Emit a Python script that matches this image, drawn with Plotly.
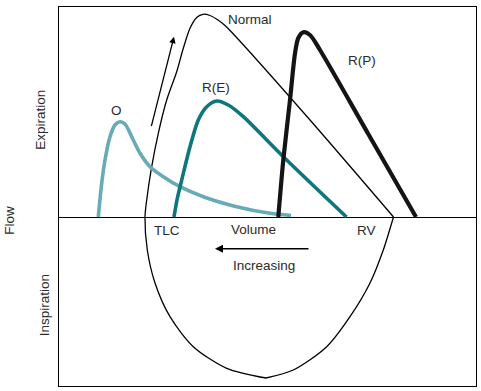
import plotly.graph_objects as go

# Flow-volume loops (volume in arbitrary units, increasing to the left; flow in arbitrary units)
# Normal loop: left limb (from inspiratory bottom up through TLC to the expiratory peak, then down to RV)
normal_exp_vol = [207, 167.7, 134.3, 111, 96, 88.3, 86, 87.7, 92.7, 99.3, 107.7, 117.7, 124.3, 131,
                  137.7, 144, 151, 159, 166, 172, 251, 334.5]
normal_exp_flow = [-161, -151.3, -129.7, -99.7, -66, -33, 0, 17, 50.3, 83.7, 117, 145.3, 168.7, 188.7,
                   199.5, 202.7, 201.5, 197, 191.5, 185.5, 97, 0]
# Normal loop: inspiratory right limb (RV down to the bottom)
normal_insp_vol = [334.5, 333, 324.3, 311, 291, 267.7, 234.3, 207]
normal_insp_flow = [0, -5, -33, -66, -99.7, -129.7, -153, -161]

# Obstructive (O)
o_vol = [39.3, 42.7, 46, 51, 56, 61, 66, 72.7, 81, 91, 104.3, 121, 144.3, 177.7, 211, 232]
o_flow = [0, 33.7, 57, 80.3, 92, 95.3, 93, 80.3, 63.7, 50.3, 40.3, 30.3, 20.3, 10.3, 3.7, 1.5]

# Restrictive, extraparenchymal (R(E))
re_vol = [115, 118, 122.7, 131, 139.3, 147.7, 157.7, 169.3, 184.3, 224.3, 287.5]
re_flow = [0, 17, 37, 70.3, 97, 110.3, 116, 112, 100.3, 60.3, 0]

# Restrictive, parenchymal (R(P))
rp_vol = [219.3, 224.3, 231, 236, 239.3, 244.3, 251, 261, 309, 357]
rp_flow = [0, 57, 117, 163.7, 179, 184.8, 182, 167, 83.5, 0]

# Text labels
curve_labels = ["Normal", "R(P)", "R(E)", "O", "TLC", "Volume", "RV", "Increasing"]
label_vol = [191, 303, 156.5, 57.7, 107.7, 194.5, 307.3, 204.7]
label_flow = [197.7, 156.2, 129.5, 107, -13, -12, -13.5, -48.7]

# Side labels (left of the frame)
side_labels = ["Flow", "Expiration", "Inspiration"]
side_x = [-0.1175, -0.0436, -0.0343]
side_y = [0.436, 0.702, 0.212]

FONT = "Liberation Sans, Arial, Helvetica, sans-serif"
TXT = "#2b2b2b"

fig = go.Figure()
fig.add_trace(go.Scatter(x=normal_exp_vol, y=normal_exp_flow, mode="lines",
                         line=dict(color="black", width=1.3, shape="spline", smoothing=0.8),
                         hoverinfo="skip"))
fig.add_trace(go.Scatter(x=normal_insp_vol, y=normal_insp_flow, mode="lines",
                         line=dict(color="black", width=1.3, shape="spline", smoothing=0.8),
                         hoverinfo="skip"))
fig.add_trace(go.Scatter(x=o_vol, y=o_flow, mode="lines",
                         line=dict(color="#66abb5", width=3.6, shape="spline", smoothing=0.8),
                         hoverinfo="skip"))
fig.add_trace(go.Scatter(x=re_vol, y=re_flow, mode="lines",
                         line=dict(color="#0e767e", width=3.6, shape="spline", smoothing=0.8),
                         hoverinfo="skip"))
fig.add_trace(go.Scatter(x=rp_vol, y=rp_flow, mode="lines",
                         line=dict(color="#141414", width=4.2, shape="spline", smoothing=0.8),
                         hoverinfo="skip"))

annotations = []
for t, xv, yv in zip(curve_labels, label_vol, label_flow):
    annotations.append(dict(x=xv, y=yv, xref="x", yref="y", text=t, showarrow=False,
                            font=dict(family=FONT, size=13.5, color=TXT),
                            xanchor="center", yanchor="middle"))

# Arrow along the expiratory limb of the normal loop
annotations.append(dict(x=115, y=180.3, ax=92, ay=89.3, xref="x", yref="y", axref="x", ayref="y",
                        text="", showarrow=True, arrowhead=2, arrowsize=1, arrowwidth=1.3,
                        arrowcolor="black"))
# "Increasing" volume arrow
annotations.append(dict(x=156, y=-31.7, ax=251, ay=-31.7, xref="x", yref="y", axref="x", ayref="y",
                        text="", showarrow=True, arrowhead=2, arrowsize=1, arrowwidth=1.6,
                        arrowcolor="black"))

for t, xv, yv in zip(side_labels, side_x, side_y):
    annotations.append(dict(x=xv, y=yv, xref="paper", yref="paper", text=t, showarrow=False,
                            textangle=-90, font=dict(family=FONT, size=13.5, color=TXT),
                            xanchor="center", yanchor="middle"))

fig.update_layout(
    width=481, height=391,
    margin=dict(l=59, r=5, t=7, b=5),
    paper_bgcolor="white", plot_bgcolor="white",
    showlegend=False,
    annotations=annotations,
    xaxis=dict(range=[0, 417], showgrid=False, zeroline=False, showticklabels=False, ticks="",
               showline=True, mirror=True, linecolor="black", linewidth=1.2, fixedrange=True),
    yaxis=dict(range=[-169, 210], showgrid=False, zeroline=True, zerolinecolor="black",
               zerolinewidth=1.1, showticklabels=False, ticks="",
               showline=True, mirror=True, linecolor="black", linewidth=1.2, fixedrange=True),
)

fig.write_html("out.html", config={"displayModeBar": False},
               post_script="document.body.style.margin='0px';document.body.style.overflow='hidden';")
